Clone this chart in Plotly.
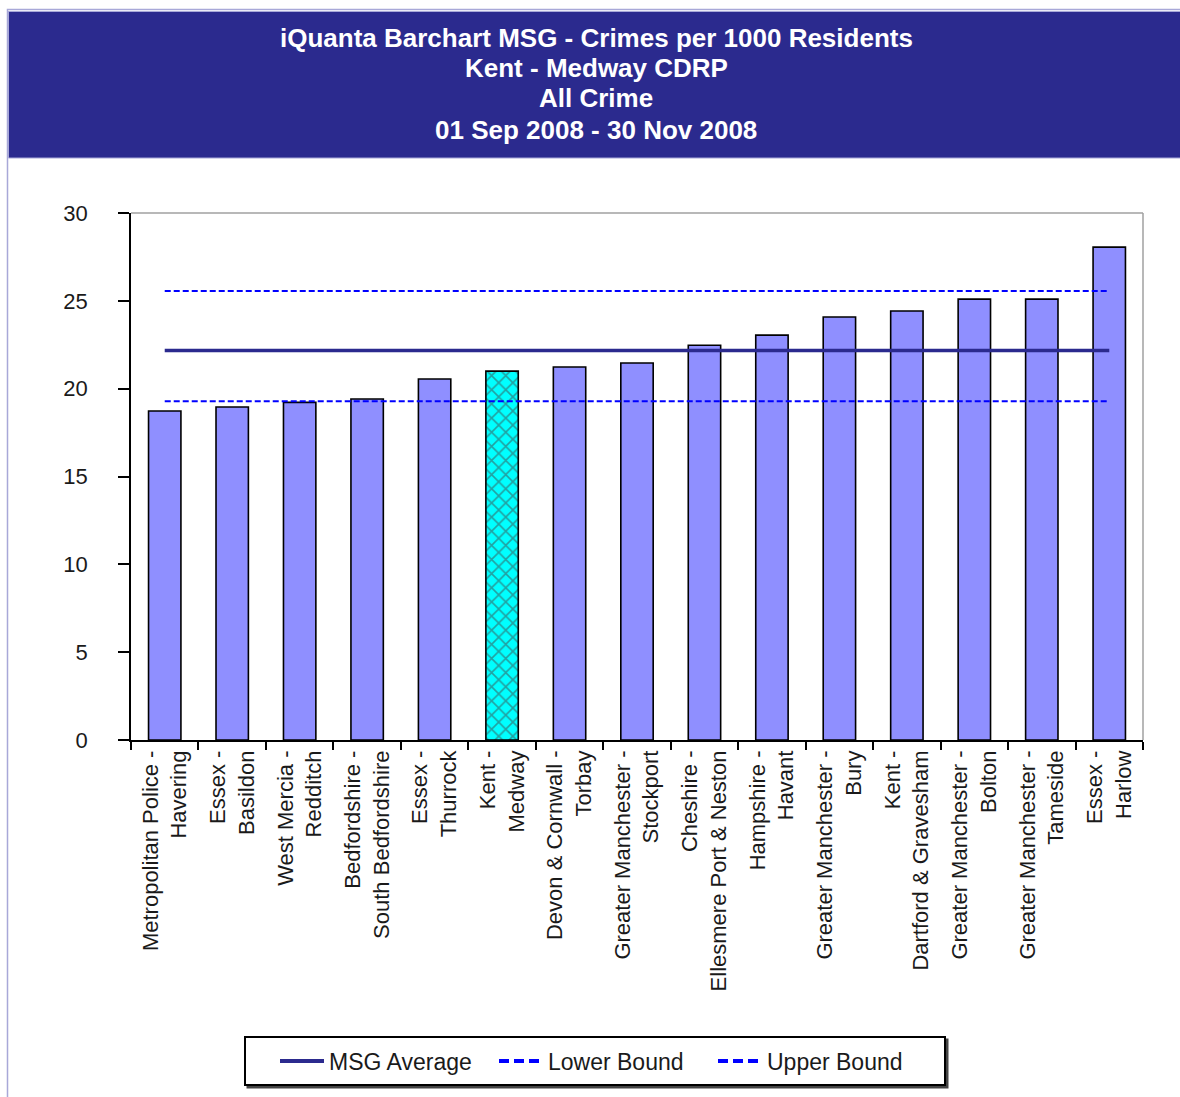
import plotly.graph_objects as go

# ---- data ----
categories = [
    "Metropolitan Police -<br>Havering",
    "Essex -<br>Basildon",
    "West Mercia -<br>Redditch",
    "Bedfordshire -<br>South Bedfordshire",
    "Essex -<br>Thurrock",
    "Kent -<br>Medway",
    "Devon & Cornwall -<br>Torbay",
    "Greater Manchester -<br>Stockport",
    "Cheshire -<br>Ellesmere Port & Neston",
    "Hampshire -<br>Havant",
    "Greater Manchester -<br>Bury",
    "Kent -<br>Dartford & Gravesham",
    "Greater Manchester -<br>Bolton",
    "Greater Manchester -<br>Tameside",
    "Essex -<br>Harlow",
]
crime_rates = [18.73, 18.96, 19.22, 19.41, 20.55, 21.00, 21.23, 21.46,
               22.47, 23.05, 24.08, 24.42, 25.10, 25.10, 28.06]
highlight = "Kent -<br>Medway"
msg_average = 22.17
lower_bound = 19.29
upper_bound = 25.56
title_lines = [
    "iQuanta Barchart MSG - Crimes per 1000 Residents",
    "Kent - Medway CDRP",
    "All Crime",
    "01 Sep 2008 - 30 Nov 2008",
]
y_ticks = [0, 5, 10, 15, 20, 25, 30]

# ---- layout geometry (pixels) ----
W, H = 1180, 1097
L, R, T, B = 131, 1143, 213, 740
pw, ph = R - L, B - T


def px(X):
    return (X - L) / pw


def py(Y):
    return (B - Y) / ph


FONT = "Liberation Sans, Arial, sans-serif"
NAVY = "#2B2A8E"
BLUE = "#0000FF"

bar_colors = ["#00FFFF" if c == highlight else "#8F8FFF" for c in categories]
bar_shapes = ["x" if c == highlight else "" for c in categories]

fig = go.Figure()
fig.add_trace(go.Bar(
    x=categories, y=crime_rates,
    marker=dict(color=bar_colors, line=dict(color="black", width=1.6),
                pattern=dict(shape=bar_shapes, fgcolor="black", size=10,
                             solidity=0.3)),
    showlegend=False, hoverinfo="x+y",
))
line_specs = [
    ("MSG Average", msg_average, dict(color=NAVY, width=3.5),
     dict(color=NAVY, width=4)),
    ("Lower Bound", lower_bound, dict(color=BLUE, width=2, dash="6px,3px"),
     dict(color=BLUE, width=4, dash="10px,5px")),
    ("Upper Bound", upper_bound, dict(color=BLUE, width=2, dash="6px,3px"),
     dict(color=BLUE, width=4, dash="10px,5px")),
]
for name, val, plot_line, legend_line in line_specs:
    fig.add_trace(go.Scatter(
        x=categories, y=[val] * len(categories), mode="lines",
        name=name, line=plot_line, showlegend=False,
    ))
    # legend proxy (same series, legend styling only)
    fig.add_trace(go.Scatter(
        x=[None], y=[None], mode="lines", name=name, line=legend_line,
        hoverinfo="skip",
    ))

shapes = [
    # outer border
    dict(type="rect", xref="paper", yref="paper", layer="below",
         x0=px(7.5), x1=px(1190), y0=py(1110), y1=py(9.5),
         line=dict(color="#A8A8D8", width=1.5), fillcolor="white"),
    # title band
    dict(type="rect", xref="paper", yref="paper", layer="below",
         x0=px(8.5), x1=px(1190), y0=py(158), y1=py(11.5),
         line=dict(color="#A8A8D8", width=1), fillcolor=NAVY),
    # grey top / right frame
    dict(type="line", xref="paper", yref="paper", layer="below",
         x0=0, x1=1, y0=1, y1=1, line=dict(color="#A0A0A0", width=1.5)),
    dict(type="line", xref="paper", yref="paper", layer="below",
         x0=1, x1=1, y0=0, y1=1, line=dict(color="#A0A0A0", width=1.5)),
    # legend shadow + box
    dict(type="rect", xref="paper", yref="paper", layer="above",
         x0=px(247.5), x1=px(947.5), y0=py(1087.5), y1=py(1039.5),
         line=dict(color="#444444", width=2), fillcolor="#444444"),
    dict(type="rect", xref="paper", yref="paper", layer="above",
         x0=px(245), x1=px(945), y0=py(1085), y1=py(1037),
         line=dict(color="black", width=2), fillcolor="white"),
]

annotations = []
for text, ycen in zip(title_lines, [38, 68, 98, 130]):
    annotations.append(dict(
        text=f"<b>{text}</b>", xref="paper", yref="paper",
        x=px(596), y=py(ycen), xanchor="center", yanchor="middle",
        showarrow=False, font=dict(family=FONT, size=26, color="white"),
    ))

fig.update_layout(
    width=W, height=H,
    margin=dict(l=L, r=W - R, t=T, b=H - B, pad=0),
    paper_bgcolor="white", plot_bgcolor="white",
    font=dict(family=FONT, color="#1A1A1A"),
    bargap=0.52,
    shapes=shapes, annotations=annotations,
    showlegend=True,
    legend=dict(
        orientation="h", xref="paper", yref="paper",
        x=px(275), y=py(1061), xanchor="left", yanchor="middle",
        bgcolor="rgba(0,0,0,0)", borderwidth=0,
        font=dict(family=FONT, size=23, color="#1A1A1A"),
        itemwidth=44, entrywidth=160, traceorder="normal",
    ),
    xaxis=dict(
        type="category", tickangle=-90, tickson="boundaries",
        ticks="outside", ticklen=8, tickwidth=1.5, tickcolor="black",
        showline=True, linecolor="black", linewidth=1.5,
        showgrid=False, zeroline=False,
        tickfont=dict(family=FONT, size=22, color="#1A1A1A"),
        fixedrange=True,
    ),
    yaxis=dict(
        range=[0, 30], tickvals=y_ticks, ticks="outside", ticklen=11,
        tickwidth=1.5, tickcolor="black",
        showline=True, linecolor="black", linewidth=1.5,
        showgrid=False, zeroline=False, ticklabelstandoff=26,
        tickfont=dict(family=FONT, size=22, color="#1A1A1A"),
        fixedrange=True,
    ),
)

fig.write_html(
    "out.html",
    config={"displayModeBar": False},
    post_script="document.body.style.margin='0';document.body.style.overflow='hidden';",
)
